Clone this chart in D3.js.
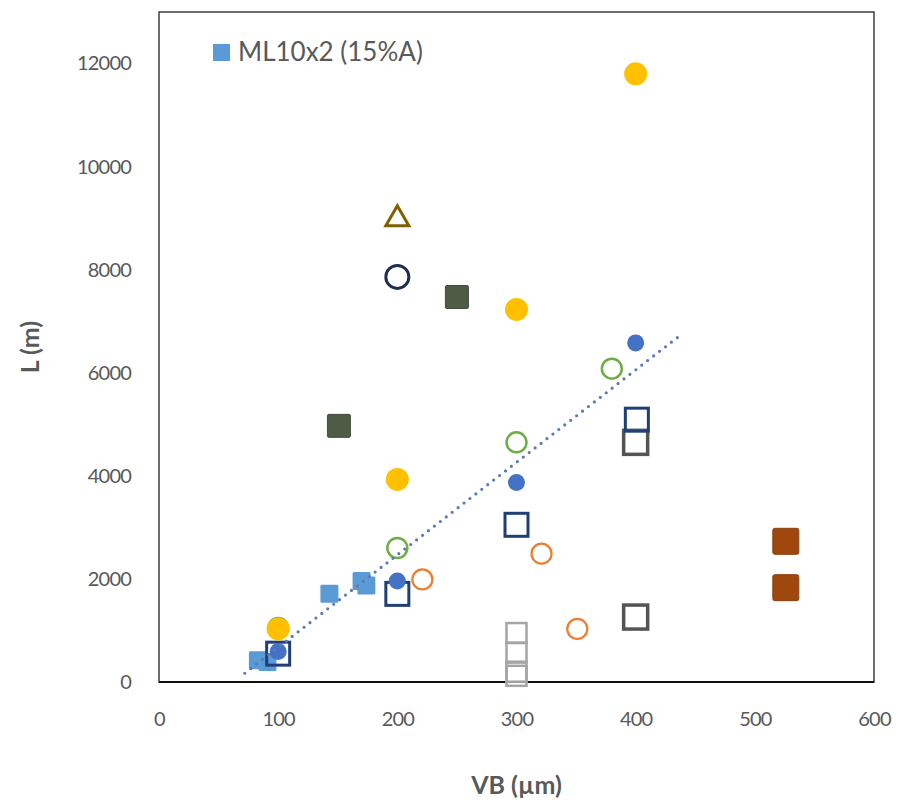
<!DOCTYPE html>
<html>
<head>
<meta charset="utf-8">
<script src="https://cdn.jsdelivr.net/npm/d3@7"></script>
<style>
  html, body { margin: 0; padding: 0; background: #ffffff; }
  svg { display: block; font-family: Lato, "Open Sans", sans-serif; }
</style>
</head>
<body>
<svg id="chart" width="899" height="802"></svg>
<script>
// Axis ticks
const xTicks = [0, 100, 200, 300, 400, 500, 600];
const yTicks = [0, 2000, 4000, 6000, 8000, 10000, 12000];

// ML10x2 (15%A) – light blue filled squares
const mlVB = [83, 91, 143, 170, 174];
const mlL  = [420, 390, 1710, 1960, 1870];

// Blue filled dots
const blueVB = [100, 200, 300, 400];
const blueL  = [590, 1960, 3870, 6580];

// Yellow filled circles
const yellowVB = [100, 200, 300, 400];
const yellowL  = [1030, 3930, 7230, 11800];

// Green open circles
const greenVB = [100, 200, 300, 380];
const greenL  = [1050, 2600, 4650, 6080];

// Orange open circles
const orangeVB = [221, 321, 351];
const orangeL  = [1990, 2490, 1030];

// Navy open squares
const navyVB = [100, 200, 300, 401];
const navyL  = [550, 1710, 3050, 5090];

// Dark grey open squares
const greyVB = [400, 400];
const greyL  = [4650, 1260];

// Light grey open squares
const lgreyVB = [300, 300, 300, 300];
const lgreyL  = [950, 570, 200, 120];

// Dark olive filled squares
const oliveVB = [151, 250];
const oliveL  = [4970, 7470];

// Brown filled squares
const brownVB = [526, 526];
const brownL  = [2730, 1830];

// Single open triangle and open circle at VB = 200
const triVB = [200];
const triL  = [9000];
const ringVB = [200];
const ringL  = [7860];

// Linear trend line (endpoints in data units)
const trendVB = [72, 437];
const trendL  = [170, 6720];

const svg = d3.select("#chart");
const plot = { left: 159, top: 12, right: 874, bottom: 682 };

const x = d3.scaleLinear().domain([0, 600]).range([plot.left, plot.right]);
const y = d3.scaleLinear().domain([0, 13000]).range([plot.bottom, plot.top]);

const textColor = "#595959";

// Plot frame
svg.append("rect")
  .attr("x", plot.left).attr("y", plot.top)
  .attr("width", plot.right - plot.left).attr("height", plot.bottom - plot.top)
  .attr("fill", "none").attr("stroke", "#3f3f3f").attr("stroke-width", 1.5);
svg.append("line")
  .attr("x1", plot.left).attr("x2", plot.right)
  .attr("y1", plot.bottom).attr("y2", plot.bottom)
  .attr("stroke", "#111").attr("stroke-width", 2);

// Axes (labels only, no tick marks)
const xAxis = svg.append("g")
  .attr("transform", `translate(0,${plot.bottom})`)
  .call(d3.axisBottom(x).tickValues(xTicks).tickSize(0).tickPadding(30).tickFormat(d3.format("d")));
const yAxis = svg.append("g")
  .attr("transform", `translate(${plot.left},0)`)
  .call(d3.axisLeft(y).tickValues(yTicks).tickSize(0).tickPadding(28).tickFormat(d3.format("d")));
[xAxis, yAxis].forEach(g => {
  g.select(".domain").remove();
  g.selectAll("text").attr("fill", textColor).attr("font-size", 20)
    .attr("letter-spacing", -0.8)
    .attr("font-family", "Lato, 'Open Sans', sans-serif");
});

// Axis titles
svg.append("text")
  .attr("x", (plot.left + plot.right) / 2).attr("y", 794)
  .attr("text-anchor", "middle").attr("fill", textColor)
  .attr("font-size", 25).attr("font-weight", "bold")
  .text("VB (µm)");
svg.append("text")
  .attr("transform", `translate(39,${(plot.top + plot.bottom) / 2}) rotate(-90)`)
  .attr("text-anchor", "middle").attr("fill", textColor)
  .attr("font-size", 25).attr("font-weight", "bold")
  .text("L (m)");

const zip = (a, b) => a.map((v, i) => [v, b[i]]);
const layer = svg.append("g");

function squares(vb, l, size, opts) {
  layer.append("g").selectAll("rect").data(zip(vb, l)).join("rect")
    .attr("x", d => x(d[0]) - size / 2).attr("y", d => y(d[1]) - size / 2)
    .attr("width", size).attr("height", size)
    .attr("rx", opts.rx || 0)
    .attr("fill", opts.fill || "none")
    .attr("stroke", opts.stroke || "none")
    .attr("stroke-width", opts.sw || 0);
}
function circles(vb, l, r, opts) {
  layer.append("g").selectAll("circle").data(zip(vb, l)).join("circle")
    .attr("cx", d => x(d[0])).attr("cy", d => y(d[1])).attr("r", r)
    .attr("fill", opts.fill || "none")
    .attr("stroke", opts.stroke || "none")
    .attr("stroke-width", opts.sw || 0);
}

// Markers
squares(mlVB, mlL, 18, { fill: "#5b9bd5", rx: 1.5 });
squares(lgreyVB, lgreyL, 20, { stroke: "#a5a5a5", sw: 2.5 });
squares(greyVB, greyL, 24, { stroke: "#545454", sw: 3.5 });
squares(navyVB, navyL, 23, { stroke: "#1f3f77", sw: 3 });
circles(greenVB, greenL, 10, { stroke: "#70ad47", sw: 2.5 });
circles(yellowVB, yellowL, 11.5, { fill: "#ffc000" });
circles(blueVB, blueL, 8.5, { fill: "#4472c4" });
circles(orangeVB, orangeL, 10, { stroke: "#ed7d31", sw: 2.2 });
squares(oliveVB, oliveL, 23, { fill: "#4e5b45", stroke: "#424d3a", sw: 1, rx: 1.5 });
squares(brownVB, brownL, 26, { fill: "#9e480e", stroke: "#8a3e0c", sw: 1, rx: 2 });
circles(ringVB, ringL, 11.5, { stroke: "#1e2e4f", sw: 3 });

const tri = d3.symbol().type(d3.symbolTriangle).size(230);
layer.append("g").selectAll("path").data(zip(triVB, triL)).join("path")
  .attr("transform", d => `translate(${x(d[0])},${y(d[1]) + 1})`)
  .attr("d", tri)
  .attr("fill", "none").attr("stroke", "#7f6000").attr("stroke-width", 3)
  .attr("stroke-linejoin", "miter");

// Dotted trend line
svg.append("path")
  .datum(zip(trendVB, trendL))
  .attr("d", d3.line().x(d => x(d[0])).y(d => y(d[1])))
  .attr("fill", "none").attr("stroke", "#5b79b6").attr("stroke-width", 3.2)
  .attr("stroke-linecap", "round").attr("stroke-dasharray", "0 7.5");

// Legend
const legend = svg.append("g").attr("transform", "translate(213,44)");
legend.append("rect").attr("width", 17).attr("height", 17).attr("fill", "#5b9bd5");
legend.append("text").attr("x", 25).attr("y", 17)
  .attr("fill", textColor).attr("font-size", 26)
  .text("ML10x2 (15%A)");
</script>
</body>
</html>
